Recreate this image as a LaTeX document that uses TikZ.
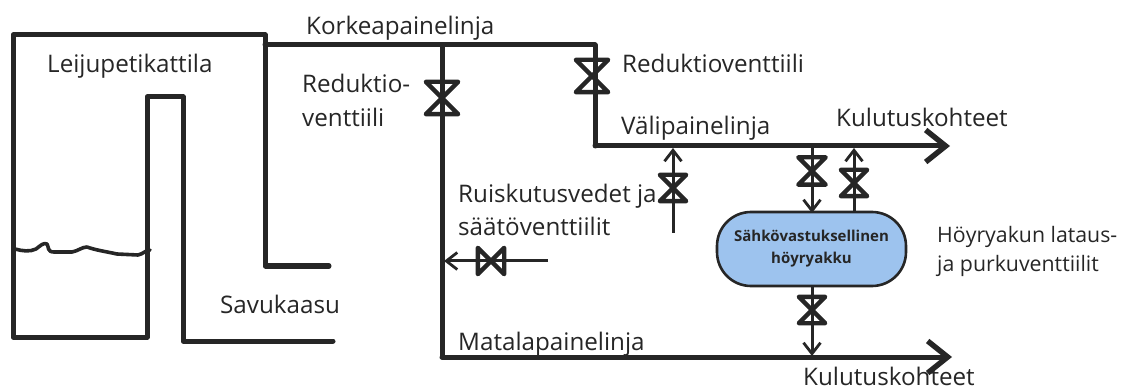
\documentclass[tikz,border=0pt]{standalone}
\usepackage{fontspec}
\setmainfont{Open Sans}
\usetikzlibrary{arrows.meta}
\definecolor{ink}{HTML}{262626}
\definecolor{tankblue}{HTML}{9DC3EE}
\tikzset{
  pipe/.style={draw=ink,line width=5pt,line join=round,line cap=round},
  thin pipe/.style={draw=ink,line width=3pt,line join=round},
  big arrow/.style={-{Straight Barb[length=20pt,width=32pt,line width=5.4pt]}},
  small arrow/.style={-{Straight Barb[length=11pt,width=17pt,line width=2.8pt]}},
  lbl/.style={anchor=base west,inner sep=0pt,font=\fontsize{24.2}{26}\selectfont,text=ink},
  lblsmall/.style={anchor=base west,inner sep=0pt,font=\fontsize{21.3}{24}\selectfont,text=ink},
  valve/.style={inner sep=0pt,minimum width=#1,minimum height=#1,
    append after command={
      \pgfextra{\draw[ink,line width=4.4pt,line join=round,line cap=round]
        (\tikzlastnode.north west)--(\tikzlastnode.north east)--(\tikzlastnode.south west)
        --(\tikzlastnode.south east)--cycle;}}},
  hvalve/.style={inner sep=0pt,minimum width=#1,minimum height=#1,
    append after command={
      \pgfextra{\draw[ink,line width=4.4pt,line join=round,line cap=round]
        (\tikzlastnode.north west)--(\tikzlastnode.south west)--(\tikzlastnode.north east)
        --(\tikzlastnode.south east)--cycle;}}},
  tank/.style={draw=ink,line width=2.6pt,fill=tankblue,rounded corners=34pt,
    minimum width=189pt,minimum height=74pt,inner sep=0pt,align=center,
    font=\fontsize{15}{22}\selectfont\bfseries,text=ink}
}
\begin{document}
\begin{tikzpicture}[x=1pt,y=-1pt]
\useasboundingbox (0,0) rectangle (1130,390);
% coordinates
\coordinate (bTR) at (265,35);
\coordinate (hpStart) at (265,45);
\coordinate (hpJ) at (442,45);
\coordinate (hpEnd) at (595,45);
\coordinate (lpCorner) at (442,357);
\coordinate (lpEnd) at (952,357);
\coordinate (mpCorner) at (595,146);
\coordinate (mpEnd) at (950,146);
\coordinate (gasA) at (329,266);
\coordinate (gasB) at (333,341);
\coordinate (sprayA) at (673,233);
\coordinate (sprayAT) at (673,148);
\coordinate (sprayB) at (548,261);
\coordinate (sprayBT) at (444,261);
\coordinate (chgT) at (812,146);
\coordinate (chgB) at (812,213);
\coordinate (disB) at (854,212);
\coordinate (disT) at (854,148);
\coordinate (lowT) at (812,286);
\coordinate (lowB) at (812,356);
% boiler
\draw[pipe] (gasA) -- (265,266) -- (bTR) -- (13,35) -- (13,337) -- (147,337) -- (147,97) -- (183,97) -- (183,341) -- (gasB);
\draw[draw=ink,line width=3.6pt,line cap=round,line join=round]
  (15,249) .. controls (22,251) and (30,252) .. (36,249) .. controls (40,246) and (44,242) .. (47,244)
  .. controls (49,247) and (47,252) .. (54,252) -- (72,252) .. controls (78,251) and (82,247) .. (87,247)
  .. controls (95,250) and (108,252) .. (117,254) -- (138,255) .. controls (143,254) and (146,250) .. (150,250);
% valves
\node[valve=32pt] (v1) at (442,98) {};
\node[valve=32pt] (v2) at (592,76) {};
\node[valve=26pt] (v3) at (673,188) {};
\node[hvalve=26pt] (v4) at (491,261) {};
\node[valve=27pt] (v5) at (812,171) {};
\node[valve=26pt] (v6) at (854,183) {};
\node[valve=26pt] (v7) at (812,310) {};
% main lines
\draw[pipe] (hpStart) -- (hpJ) -- (hpEnd);
\draw[pipe] (hpJ) -- (v1.center) -- (lpCorner);
\draw[pipe,big arrow] (lpCorner) -- (lpEnd);
\draw[pipe] (hpEnd) -- (mpCorner);
\draw[pipe,big arrow] (mpCorner) -- (mpEnd);
% branch lines
\draw[thin pipe,small arrow] (sprayA) -- (v3.center) -- (sprayAT);
\draw[thin pipe,small arrow] (sprayB) -- (v4.center) -- (sprayBT);
\draw[thin pipe,small arrow] (chgT) -- (v5.center) -- (chgB);
\draw[thin pipe,small arrow] (disB) -- (v6.center) -- (disT);
\draw[thin pipe,small arrow] (lowT) -- (v7.center) -- (lowB);
% tank
\node[tank] (akku) at (811.5,249) {Sähkövastuksellinen\\höyryakku};
% labels
\node[lbl] (t1) at (306,35) {Korkeapainelinja};
\node[lbl] (t2) at (47,73) {Leijupetikattila};
\node[lbl] (t3) at (302,93) {Reduktio-};
\node[lbl] (t4) at (302,127) {venttiili};
\node[lbl] (t5) at (220,313) {Savukaasu};
\node[lbl] (t6) at (622,73) {Reduktioventtiili};
\node[lbl] (t7) at (621,135) {Välipainelinja};
\node[lbl] (t8) at (836,127) {Kulutuskohteet};
\node[lbl] (t9) at (458,203) {Ruiskutusvedet ja};
\node[lbl] (t10) at (458,236) {säätöventtiilit};
\node[lbl] (t11) at (458,350) {Matalapainelinja};
\node[lbl] (t12) at (803,385) {Kulutuskohteet};
\node[lblsmall] (t13) at (937,243) {Höyryakun lataus-};
\node[lblsmall] (t14) at (937,272) {ja purkuventtiilit};
\end{tikzpicture}
\end{document}
